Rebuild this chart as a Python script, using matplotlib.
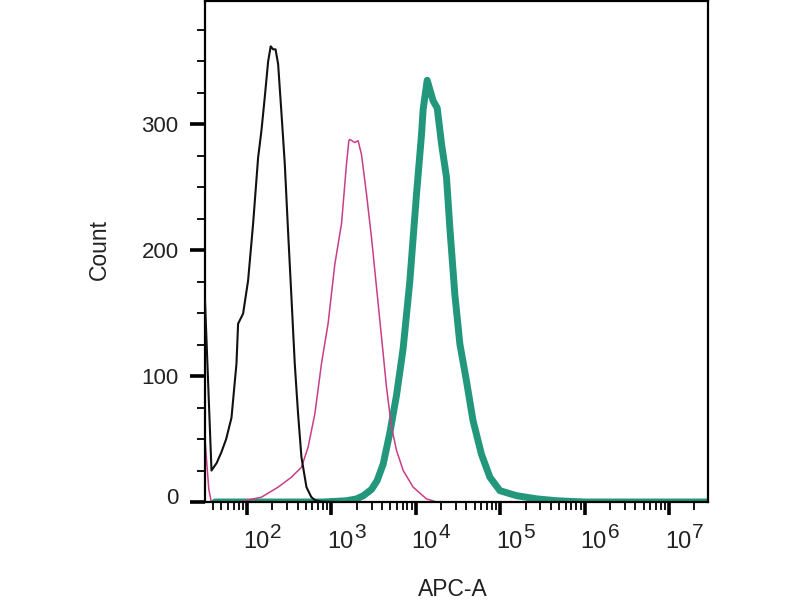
import numpy as np
import matplotlib
matplotlib.use("Agg")
import matplotlib.pyplot as plt
from matplotlib.ticker import FixedLocator, NullFormatter, MultipleLocator
import matplotlib.transforms as mtransforms

plt.rcParams['font.family'] = ['Liberation Sans', 'DejaVu Sans']

# ---- data ----
black_x = [32, 38.2, 44, 50, 57, 65.9, 75.5, 78.9, 90.4, 103.6, 118.8, 136.2, 149, 163, 179, 192,
           205, 219, 235, 258, 282, 308, 338, 370, 405, 444, 509, 580, 640, 760, 1300]
black_y = [160, 25, 31, 39.5, 50, 67, 110, 141.6, 149.6, 175.8, 221, 273.6, 294.8, 321, 350, 362,
           359.6, 359.6, 348, 308, 268.5, 215.5, 162.5, 109.9, 70, 35.6, 11.8, 4, 1.5, 0.3, 0]

pink_x = [32, 35.5, 38, 80, 149, 235, 338, 444, 532, 640, 767, 918, 1104, 1324, 1517, 1617,
          1660, 1905, 2083, 2284, 2618, 3000, 3440, 3944, 4520, 5180, 5940, 7120, 9340,
          13400, 17700, 25000]
pink_y = [50, 10, 0, 0, 3.8, 11.8, 19.7, 27.6, 43.5, 70, 110, 141.7, 189, 221, 268.6, 287,
          288, 285.6, 287, 276, 244.6, 210, 170.5, 130.8, 91, 59.4, 40.9, 25, 11.8,
          2.5, 0, 0]

teal_x = [42, 800, 1515, 2000, 2400, 3000, 3500, 4120, 4950, 5940, 7110, 8520,
          10250, 11740, 12270, 13700, 16100, 18000, 20300, 23200, 25400, 29100, 33400,
          39900, 47800, 60100, 75700, 99500, 157000, 271000, 466000, 1000000, 29000000]
teal_y = [0, 0, 1, 2.5, 5, 10, 17, 30, 55, 85, 122, 175,
          245, 292, 312, 335, 318.7, 313, 284, 257.8, 218, 165, 125.5,
          96.4, 64.7, 38, 19.7, 9, 5, 2.5, 1, 0, 0]

x_decades = [2, 3, 4, 5, 6, 7]
y_ticks = [0, 100, 200, 300]

# ---- figure ----
fig = plt.figure(figsize=(8, 6), dpi=100)
ax = fig.add_axes([205/800, 1-502/600, 503/800, 501/600])

ax.plot(black_x, black_y, color='#111111', lw=1.5, zorder=3)
ax.plot(pink_x, pink_y, color='#c93d8a', lw=1.1, zorder=2)
ax.plot(teal_x, teal_y, color='#22977b', lw=5, zorder=1,
        solid_joinstyle='round', solid_capstyle='round')

ax.set_xscale('log')
ax.set_xlim(32, 2.9e7)
ax.set_ylim(0, 398)

for s in ax.spines.values():
    s.set_linewidth(1.6)
    s.set_color('black')

# x ticks
major = [10.0**d for d in x_decades]
minor = [m * 10.0**d for d in range(1, 8) for m in range(2, 10)]
ax.xaxis.set_major_locator(FixedLocator(major))
ax.xaxis.set_minor_locator(FixedLocator(minor))
ax.xaxis.set_minor_formatter(NullFormatter())
ax.set_xticklabels([''] * len(major))
ax.tick_params(axis='x', which='major', direction='out', length=9, width=2.6)
ax.tick_params(axis='x', which='minor', direction='out', length=6, width=1.3)

# y ticks
ax.yaxis.set_major_locator(FixedLocator(y_ticks))
ax.yaxis.set_minor_locator(MultipleLocator(25))
ax.set_yticklabels([str(v) for v in y_ticks])
ax.tick_params(axis='y', which='major', direction='out', length=11, width=2.6,
               labelsize=16, pad=8, colors='black', labelcolor='#222222')
ax.tick_params(axis='y', which='minor', direction='out', length=6, width=1.3)
for lab in ax.get_yticklabels():
    if lab.get_text() == '0':
        lab.set_transform(lab.get_transform() +
                          mtransforms.ScaledTranslation(0, 6/100, fig.dpi_scale_trans))

# manual decade labels: "10" with large superscript
trans = mtransforms.blended_transform_factory(ax.transData, ax.transAxes)
for d in x_decades:
    base_off = mtransforms.ScaledTranslation(-4/100, 0, fig.dpi_scale_trans)
    ax.text(10.0**d, -0.08, '10', transform=trans + base_off, ha='left', va='center',
            fontsize=17, color='#222222')
    sup_off = mtransforms.ScaledTranslation(23/100, 10/100, fig.dpi_scale_trans)
    ax.text(10.0**d, -0.08, str(d), transform=trans + sup_off, ha='left', va='center',
            fontsize=15, color='#222222')

ax.set_xlabel('APC-A', fontsize=16.5, color='#222222')
ax.xaxis.set_label_coords((453-205)/503, (502-590)/501)
ax.xaxis.label.set_va('center')
ax.set_ylabel('Count', fontsize=16.5, color='#222222')
ax.yaxis.set_label_coords((99-205)/503, (502-250)/501)
ax.yaxis.label.set_va('center')

fig.savefig('out.png', dpi=100)
